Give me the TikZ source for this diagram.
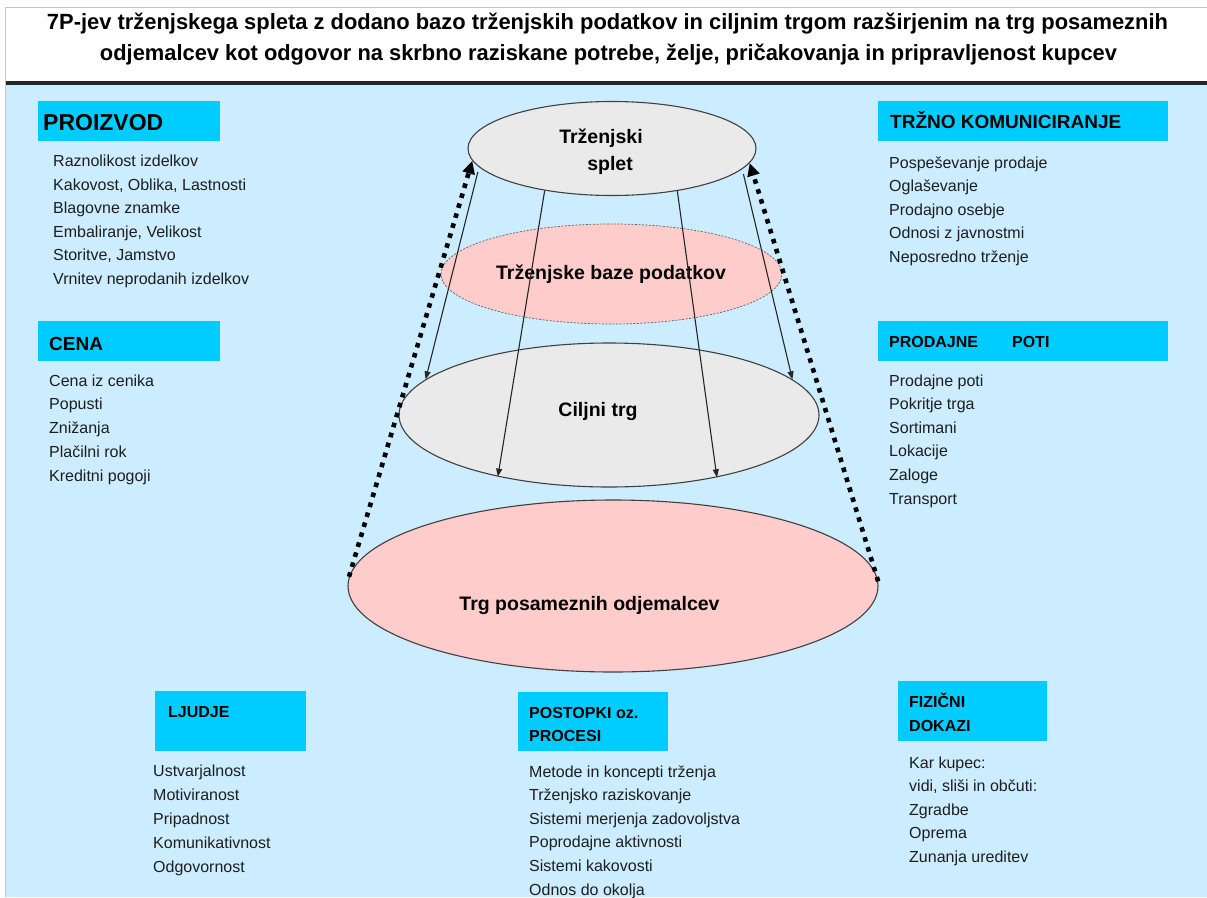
\documentclass[tikz,border=0pt]{standalone}
\usepackage{fontspec}
\setmainfont{Liberation Sans}
\usepackage{graphicx}
\usetikzlibrary{arrows.meta,shapes.geometric}
\definecolor{bgblue}{HTML}{CCECFF}
\definecolor{hdcyan}{HTML}{00CCFF}
\definecolor{pinkf}{HTML}{FFCCCC}
\definecolor{grayf}{HTML}{EAEAEA}
\definecolor{edgec}{HTML}{404040}
\definecolor{itemc}{HTML}{1E1E1E}
\begin{document}
\begin{tikzpicture}[x=1pt,y=-1pt,
  hdbox/.style={fill=hdcyan, draw=none, inner sep=0pt, anchor=north west},
  item/.style={anchor=base west, inner sep=0pt, text=itemc, font=\fontsize{16}{24}\selectfont},
  hd/.style={anchor=base west, inner sep=0pt},
  ell/.style={ellipse, inner sep=0pt, draw=edgec, line width=1.1pt},
  elab/.style={anchor=base, inner sep=0pt, font=\fontsize{19.5}{24}\selectfont\bfseries},
  thinarrow/.style={draw=black!85, line width=1.1pt, -{Triangle[length=8pt,width=6pt]}},
  dotarrow/.style={draw=black, line width=4.6pt, dash pattern=on 4.6pt off 5.8pt, -{Triangle[length=13pt,width=12pt]}},
]
\useasboundingbox (0,0) rectangle (1207,897);
% background
\fill[white] (0,0) rectangle (1207,897);
\fill[bgblue] (6,85) rectangle (1207,897);
\fill[black!85] (6,81) rectangle (1207,85);
\draw[gray!45, line width=1pt] (5,897) -- (5,7.5) -- (1207,7.5);

% title
\node[anchor=base, inner sep=0pt] (title1) at (607.5,29) {\resizebox{1121pt}{\height}{\fontsize{22}{26}\selectfont\bfseries 7P-jev trženjskega spleta z dodano bazo trženjskih podatkov in ciljnim trgom razširjenim na trg posameznih}};
\node[anchor=base, inner sep=0pt] (title2) at (608.5,60) {\resizebox{1017pt}{\height}{\fontsize{22}{26}\selectfont\bfseries odjemalcev kot odgovor na skrbno raziskane potrebe, želje, pričakovanja in pripravljenost kupcev}};

% ellipses
\node[ell, fill=pinkf, minimum width=530pt, minimum height=172pt] (e4) at (613,586) {};
\node[ell, fill=grayf, minimum width=420pt, minimum height=144pt] (e3) at (609,415) {};
\node[ellipse, inner sep=0pt, fill=pinkf, draw=gray!75!black, line width=0.7pt, dash pattern=on 2pt off 1.5pt, minimum width=341pt, minimum height=100pt] (e2) at (611.5,274) {};
\node[ell, fill=grayf, minimum width=288pt, minimum height=94pt] (e1) at (612,148.5) {};

\node[elab] (t1a) at (601,143.5) {Trženjski};
\node[elab] (t1b) at (610,170) {splet};
\node[elab] (t2) at (611,279) {Trženjske baze podatkov};
\node[elab] (t3) at (598,416) {Ciljni trg};
\node[elab] (t4) at (589.5,610) {Trg posameznih odjemalcev};

% arrows
\draw[thinarrow, shorten <=5pt] (e1.188.1) -- (e3.169.5);
\draw[thinarrow, shorten <=5pt] (e1.351.9) -- (e3.11.2);
\draw[thinarrow] (e1.212.7) -- (e3.209.2);
\draw[thinarrow] (e1.327.7) -- (e3.330.1);
\draw[dotarrow] (e4.178.3) -- (e1.185.5);
\draw[dotarrow] (e4.1.7) -- (e1.354.5);

% PROIZVOD
\node[hdbox, minimum width=182pt, minimum height=40pt] (bprod) at (38,101) {};
\node[hd, font=\fontsize{23}{28}\selectfont\bfseries] (hprod) at (43,130) {PROIZVOD};
\foreach \t [count=\i] in {{Raznolikost izdelkov},{Kakovost, Oblika, Lastnosti},{Blagovne znamke},{Embaliranje, Velikost},{Storitve, Jamstvo},{Vrnitev neprodanih izdelkov}}
  \node[item] (prod\i) at (53,166.5+23.6*\i-23.6) {\t};

% TRZNO KOMUNICIRANJE
\node[hdbox, minimum width=290pt, minimum height=40pt] (bkom) at (878,101) {};
\node[hd, font=\fontsize{19}{24}\selectfont\bfseries] (hkom) at (890,128.5) {TRŽNO KOMUNICIRANJE};
\foreach \t [count=\i] in {{Pospeševanje prodaje},{Oglaševanje},{Prodajno osebje},{Odnosi z javnostmi},{Neposredno trženje}}
  \node[item] (kom\i) at (889,168+23.5*\i-23.5) {\t};

% CENA
\node[hdbox, minimum width=182pt, minimum height=40pt] (bcena) at (38,321) {};
\node[hd, font=\fontsize{19}{24}\selectfont\bfseries] (hcena) at (49,350) {CENA};
\foreach \t [count=\i] in {{Cena iz cenika},{Popusti},{Znižanja},{Plačilni rok},{Kreditni pogoji}}
  \node[item] (cena\i) at (49,386+23.8*\i-23.8) {\t};

% PRODAJNE POTI
\node[hdbox, minimum width=290pt, minimum height=40pt] (bpot) at (878,321) {};
\node[hd, font=\fontsize{16}{20}\selectfont\bfseries] (hpot) at (889,347) {PRODAJNE\hspace{34pt}POTI};
\foreach \t [count=\i] in {{Prodajne poti},{Pokritje trga},{Sortimani},{Lokacije},{Zaloge},{Transport}}
  \node[item] (pot\i) at (889,386+23.6*\i-23.6) {\t};

% LJUDJE
\node[hdbox, minimum width=151pt, minimum height=60pt] (bljud) at (155,691) {};
\node[hd, font=\fontsize{16}{20}\selectfont\bfseries] (hljud) at (168,717) {LJUDJE};
\foreach \t [count=\i] in {{Ustvarjalnost},{Motiviranost},{Pripadnost},{Komunikativnost},{Odgovornost}}
  \node[item] (ljud\i) at (153,776+24*\i-24) {\t};

% POSTOPKI
\node[hdbox, minimum width=150pt, minimum height=59pt] (bpost) at (518,692) {};
\node[hd, font=\fontsize{16}{20}\selectfont\bfseries] (hpost1) at (529,718) {POSTOPKI oz.};
\node[hd, font=\fontsize{16}{20}\selectfont\bfseries] (hpost2) at (529,741) {PROCESI};
\foreach \t [count=\i] in {{Metode in koncepti trženja},{Trženjsko raziskovanje},{Sistemi merjenja zadovoljstva},{Poprodajne aktivnosti},{Sistemi kakovosti},{Odnos do okolja}}
  \node[item] (post\i) at (529,777+23.6*\i-23.6) {\t};

% FIZICNI DOKAZI
\node[hdbox, minimum width=149pt, minimum height=60pt] (bfiz) at (898,681) {};
\node[hd, font=\fontsize{16}{20}\selectfont\bfseries] (hfiz1) at (909,707) {FIZIČNI};
\node[hd, font=\fontsize{16}{20}\selectfont\bfseries] (hfiz2) at (909,731) {DOKAZI};
\foreach \t [count=\i] in {{Kar kupec:},{vidi, sliši in občuti:},{Zgradbe},{Oprema},{Zunanja ureditev}}
  \node[item] (fiz\i) at (909,768+23.5*\i-23.5) {\t};
\end{tikzpicture}
\end{document}
